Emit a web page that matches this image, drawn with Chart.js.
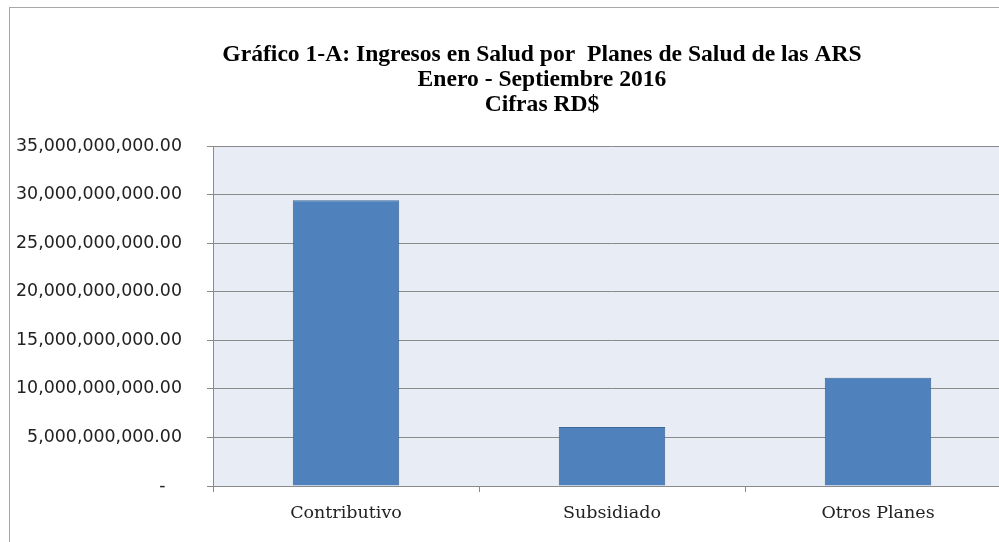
<!DOCTYPE html>
<html>
<head>
<meta charset="utf-8">
<script src="https://cdn.jsdelivr.net/npm/chart.js@4.4.1/dist/chart.umd.min.js"></script>
<style>
  html, body { margin: 0; padding: 0; background: #fff; overflow: hidden; width: 999px; height: 542px; }
  #frame { position: absolute; left: 9px; top: 7px; width: 1100px; height: 600px; border: 1px solid #a8a8a8; }
  #chart { position: absolute; left: 10px; top: 8px; }
</style>
</head>
<body>
<div id="frame"></div>
<canvas id="chart" width="1064" height="534"></canvas>
<script>
const titleLines = [
    'Gráfico 1-A: Ingresos en Salud por  Planes de Salud de las ARS',
    'Enero - Septiembre 2016',
    'Cifras RD$'
];
const categories = ['Contributivo', 'Subsidiado', 'Otros Planes'];
const ingresos = [29420000000, 6070000000, 11140000000];
const yMax = 35000000000;
const yStep = 5000000000;

const gridGrey = '#8a8a8a';

// fondo gris azulado del area de trazado
const plotBackground = {
    id: 'plotBackground',
    beforeDraw(chart) {
        const { ctx, chartArea } = chart;
        ctx.save();
        ctx.fillStyle = '#e8ecf4';
        ctx.fillRect(chartArea.left, chartArea.top, chartArea.right - chartArea.left, chartArea.bottom - chartArea.top);
        ctx.restore();
    }
};

// el titulo se centra en todo el ancho del grafico, no solo dentro del padding
const titleFullWidth = {
    id: 'titleFullWidth',
    afterLayout(chart) {
        const t = chart.titleBlock;
        if (t) {
            t.left = 0;
            t.right = chart.width;
        }
    }
};

const ctx = document.getElementById('chart').getContext('2d');
const chart = new Chart(ctx, {
    type: 'bar',
    data: {
        labels: categories,
        datasets: [{
            label: 'Ingresos',
            data: ingresos,
            backgroundColor: '#4f81bd',
            borderColor: '#3d6799',
            borderWidth: 1,
            barPercentage: 0.4,
            categoryPercentage: 1
        }]
    },
    options: {
        responsive: false,
        animation: false,
        devicePixelRatio: 1,
        layout: { padding: { left: 5, right: 63, top: 0, bottom: 7 } },
        plugins: {
            legend: { display: false },
            tooltip: { enabled: false },
            title: {
                display: true,
                text: titleLines,
                color: '#000',
                font: { family: '"Liberation Serif", serif', size: 23.6, weight: 'bold', lineHeight: 1.06 },
                padding: { top: 34, bottom: 29 }
            }
        },
        scales: {
            x: {
                grid: { offset: true, drawOnChartArea: false, drawTicks: true, tickLength: 6, color: gridGrey },
                border: { display: true, color: gridGrey },
                ticks: {
                    color: '#222',
                    padding: 11,
                    font: { family: '"DejaVu Serif", serif', size: 17.5 }
                }
            },
            y: {
                min: 0,
                max: yMax,
                afterFit(scale) { scale.width = 198; },
                grid: { color: gridGrey, drawTicks: true, tickLength: 6 },
                border: { display: true, color: gridGrey },
                ticks: {
                    stepSize: yStep,
                    color: '#222',
                    padding: 25,
                    font: { family: '"DejaVu Sans", sans-serif', size: 17.4 },
                    callback: value => value === 0 ? '-   ' : value.toLocaleString('en-US', { minimumFractionDigits: 2, maximumFractionDigits: 2 })
                }
            }
        }
    },
    plugins: [plotBackground, titleFullWidth]
});
</script>
</body>
</html>
